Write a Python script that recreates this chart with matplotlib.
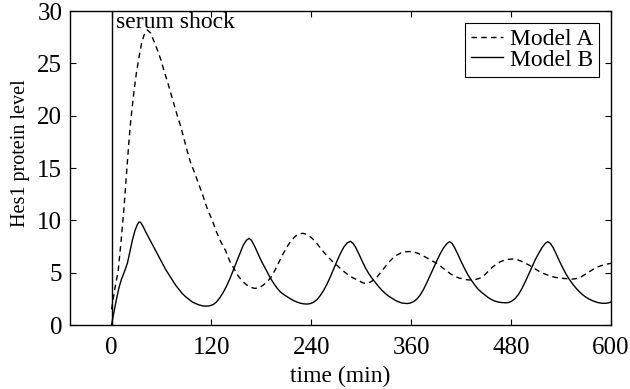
import matplotlib
matplotlib.use("Agg")
import matplotlib.pyplot as plt

# ---- data ----
t_a = [0, 4, 8, 12, 15, 18, 21, 23, 27, 30, 33, 36, 39, 43, 47, 51, 55, 59, 63, 67,
       71, 75, 79, 83, 87, 91, 95, 100, 105, 110, 115, 121, 126, 131, 137, 142, 147,
       152, 157, 162, 167, 172, 177, 182, 187, 191, 196, 201, 206, 211, 216, 221, 226,
       230, 235, 240, 245, 250, 255, 260, 265, 270, 275, 280, 285, 290, 296, 300, 303,
       308, 313, 318, 323, 328, 333, 338, 343, 348, 353, 358, 363, 368, 373, 378, 383,
       388, 392, 397, 402, 407, 412, 417, 422, 427, 432, 437, 442, 447, 452, 457, 462,
       467, 472, 477, 482, 487, 492, 497, 502, 508, 513, 518, 523, 528, 533, 538, 543,
       548, 554, 559, 564, 569, 574, 579, 584, 589, 594, 600]
model_a = [1.5, 3.5, 5.2, 8.5, 11.3, 14.5, 17.7, 19.5, 22.4, 24.2, 25.6, 26.9, 27.7, 28.2,
           27.9, 27.1, 26.3, 25.4, 24.3, 23.3, 22.2, 21.1, 20.0, 19.0, 17.8, 16.6, 15.5,
           14.5, 13.4, 12.3, 11.1, 10.0, 8.9, 8.0, 7.1, 6.1, 5.4, 4.7, 4.2, 3.85, 3.6,
           3.5, 3.55, 3.8, 4.15, 4.5, 5.2, 6.0, 6.8, 7.5, 8.1, 8.5, 8.72, 8.76, 8.65, 8.35,
           7.95, 7.45, 6.95, 6.5, 6.1, 5.75, 5.4, 5.05, 4.75, 4.5, 4.3, 4.1, 4.0, 4.0, 4.2,
           4.5, 5.0, 5.5, 6.0, 6.4, 6.7, 6.9, 7.0, 7.02, 6.98, 6.85, 6.65, 6.45, 6.2, 6.0,
           5.85, 5.5, 5.2, 4.9, 4.65, 4.5, 4.4, 4.32, 4.3, 4.35, 4.46, 4.7, 5.1, 5.5, 5.8,
           6.05, 6.2, 6.28, 6.3, 6.25, 6.1, 5.9, 5.7, 5.4, 5.15, 4.95, 4.8, 4.65, 4.55,
           4.5, 4.45, 4.42, 4.39, 4.45, 4.6, 4.85, 5.1, 5.35, 5.55, 5.7, 5.8, 5.9]

t_b = [0, 3, 6, 9, 12, 15, 19, 22, 25, 28, 31, 33, 35, 38, 41, 45, 49, 53, 57, 61, 65,
       69, 73, 77, 81, 85, 89, 93, 97, 101, 105, 110, 114, 118, 122, 126, 130, 134, 138,
       142, 146, 150, 154, 158, 162, 165, 168, 172, 176, 180, 184, 188, 191, 195, 199,
       203, 207, 211, 215, 219, 223, 227, 231, 235, 239, 243, 247, 251, 255, 259, 263,
       267, 271, 275, 279, 283, 287, 290, 293, 297, 301, 305, 309, 313, 317, 321, 325,
       329, 333, 337, 341, 345, 349, 355, 359, 363, 367, 371, 375, 379, 383, 387, 391,
       395, 399, 403, 406, 409, 412, 416, 420, 424, 428, 432, 436, 440, 444, 448, 452,
       456, 460, 464, 468, 473, 477, 481, 485, 489, 493, 497, 501, 505, 509, 513, 517,
       521, 524, 527, 530, 534, 538, 542, 546, 549, 553, 557, 561, 565, 569, 573, 577,
       581, 585, 589, 593, 597, 600]
model_b = [0, 1.3, 2.5, 3.6, 4.4, 5.0, 5.9, 7.0, 8.1, 9.0, 9.6, 9.85, 9.8, 9.4, 8.9, 8.3,
           7.7, 7.1, 6.5, 5.9, 5.3, 4.8, 4.3, 3.8, 3.4, 3.0, 2.7, 2.45, 2.2, 2.05, 1.92,
           1.82, 1.8, 1.84, 1.95, 2.2, 2.6, 3.1, 3.7, 4.4, 5.2, 6.0, 6.8, 7.6, 8.1, 8.28,
           8.1, 7.5, 6.8, 6.1, 5.5, 4.9, 4.46, 3.95, 3.5, 3.15, 2.9, 2.7, 2.5, 2.32, 2.18,
           2.08, 2.02, 2.0, 2.05, 2.2, 2.45, 2.85, 3.35, 3.95, 4.65, 5.4, 6.15, 6.85, 7.45,
           7.85, 8.0, 7.8, 7.45, 6.8, 6.1, 5.45, 4.9, 4.45, 4.05, 3.65, 3.3, 3.0, 2.75,
           2.55, 2.35, 2.2, 2.1, 2.05, 2.1, 2.25, 2.5, 2.9, 3.45, 4.1, 4.8, 5.5, 6.2, 6.85,
           7.4, 7.8, 7.96, 7.8, 7.4, 6.75, 6.05, 5.4, 4.8, 4.3, 3.85, 3.45, 3.15, 2.9, 2.65,
           2.45, 2.3, 2.2, 2.15, 2.12, 2.15, 2.3, 2.55, 2.95, 3.5, 4.15, 4.85, 5.55, 6.25,
           6.85, 7.4, 7.8, 7.96, 7.8, 7.45, 6.8, 6.1, 5.45, 4.85, 4.46, 4.0, 3.6, 3.25,
           2.95, 2.7, 2.5, 2.35, 2.22, 2.13, 2.08, 2.07, 2.12, 2.2]

x_ticks = [0, 120, 240, 360, 480, 600]
y_ticks = [0, 5, 10, 15, 20, 25, 30]
shock_time = 0

plt.rcParams['font.family'] = ['Liberation Serif', 'DejaVu Serif']
plt.rcParams['font.size'] = 17

fig = plt.figure(figsize=(6.3, 3.89), dpi=100)
ax = fig.add_axes([0.111, 0.1645, 0.859, 0.807])

ax.plot(t_a, model_a, color='black', lw=1.0, linestyle=(0, (4, 3)), label='Model A')
ax.plot(t_b, model_b, color='black', lw=1.0, label='Model B')
ax.axvline(shock_time, color='black', lw=1.0)
ax.text(shock_time + 4.8, 28.35, 'serum shock', ha='left', va='baseline', fontsize=17)

ax.set_xlim(-50, 600)
ax.set_ylim(0, 30)
ax.set_xticks(x_ticks)
ax.set_yticks(y_ticks)
ax.tick_params(direction='in', top=True, right=True, length=4, width=0.8, labelsize=18)
ax.tick_params(axis='x', pad=8.5)
ax.tick_params(axis='y', pad=5.5)
for s in ax.spines.values():
    s.set_linewidth(1.0)
ax.set_xlabel('time (min)', fontsize=17, labelpad=5)
ax.set_ylabel('Hes1 protein level', fontsize=14.5)
ax.yaxis.set_label_coords(-0.074, 0.546)

leg = ax.legend(loc='upper right', fancybox=False, framealpha=1, edgecolor='black',
                handlelength=1.35, handletextpad=0.3, borderpad=0.25, labelspacing=-0.05,
                borderaxespad=0.5, fontsize=17)
leg.get_frame().set_linewidth(0.8)

fig.savefig('out.png', dpi=100)
